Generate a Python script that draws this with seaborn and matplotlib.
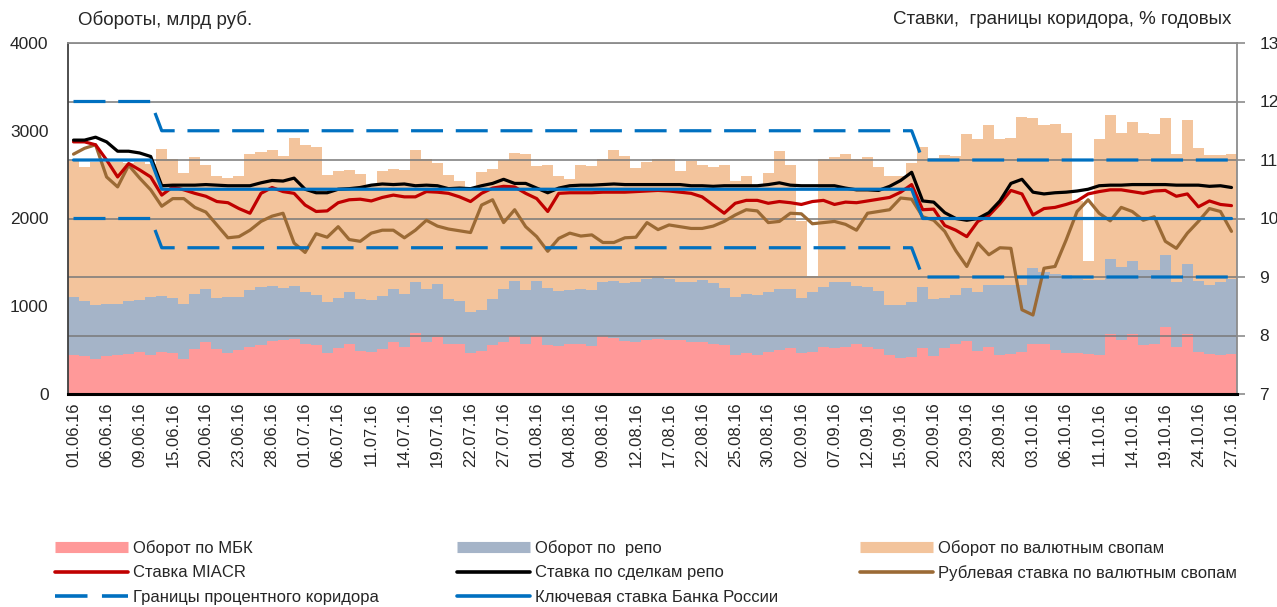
import numpy as np
import pandas as pd
import matplotlib
matplotlib.use('Agg')
import matplotlib.pyplot as plt
import seaborn as sns
from matplotlib.lines import Line2D

# Turnover, bn rub (daily, business days 01.06.16 - 27.10.16)
mbk = [443, 435, 401, 435, 440, 451, 477, 443, 480, 466, 401, 511, 594, 511, 462, 496, 534, 564, 601, 613,
       625, 572, 557, 462, 523, 575, 492, 477, 511, 587, 538, 693, 594, 651, 575, 574, 462, 489, 564, 590,
       662, 575, 658, 564, 549, 568, 575, 549, 658, 643, 609, 598, 621, 625, 621, 613, 594, 587, 572, 557,
       443, 470, 443, 477, 504, 519, 462, 477, 530, 519, 538, 568, 530, 511, 443, 405, 424, 519, 432, 526,
       568, 602, 492, 538, 443, 458, 481, 568, 568, 500, 462, 470, 455, 440, 682, 613, 689, 553, 568, 765,
       534, 682, 481, 451, 447, 455]
repo = [659, 622, 610, 591, 582, 606, 595, 659, 633, 629, 621, 625, 599, 579, 648, 614, 648, 652, 634, 595,
        602, 587, 576, 583, 575, 588, 591, 595, 610, 606, 602, 580, 599, 599, 504, 490, 473, 465, 515, 610,
        622, 606, 626, 640, 621, 613, 618, 640, 622, 641, 660, 675, 689, 697, 686, 663, 682, 708, 693, 655,
        659, 674, 682, 686, 693, 681, 629, 686, 686, 757, 738, 667, 686, 663, 572, 610, 625, 701, 655, 564,
        564, 610, 667, 708, 803, 781, 758, 871, 822, 863, 890, 844, 840, 855, 852, 834, 822, 856, 848, 814,
        742, 795, 807, 788, 829, 852]
swaps = [1556, 1525, 1632, 1614, 1618, 1573, 1568, 1523, 1682, 1586, 1500, 1560, 1412, 1390, 1351, 1370,
         1552, 1541, 1548, 1507, 1689, 1673, 1684, 1455, 1447, 1393, 1424, 1302, 1424, 1367, 1416, 1510,
         1488, 1382, 1421, 1359, 1428, 1571, 1481, 1466, 1465, 1553, 1317, 1409, 1310, 1269, 1420, 1409,
         1401, 1495, 1446, 1298, 1329, 1355, 1374, 1269, 1374, 1310, 1321, 1393, 1329, 1336, 1241, 1351,
         1575, 1405, 886, 177, 1461, 1428, 1458, 1446, 1480, 1408, 1465, 1465, 1579, 1590, 1601, 1637,
         1583, 1749, 1745, 1821, 1658, 1684, 1919, 1704, 1677, 1716, 1620, 886, 216, 1609, 1643, 1526,
         1590, 1563, 1549, 1564, 1458, 1643, 1510, 1484, 1447, 1427]

# Rates, % p.a.
miacr = [11.31, 11.31, 11.26, 11.00, 10.71, 10.94, 10.83, 10.71, 10.40, 10.54, 10.49, 10.43, 10.38, 10.29,
         10.27, 10.17, 10.09, 10.43, 10.53, 10.46, 10.43, 10.23, 10.12, 10.13, 10.27, 10.32, 10.33, 10.30,
         10.36, 10.40, 10.37, 10.37, 10.46, 10.45, 10.43, 10.37, 10.29, 10.43, 10.52, 10.55, 10.54, 10.43,
         10.34, 10.12, 10.43, 10.44, 10.44, 10.44, 10.45, 10.45, 10.45, 10.46, 10.47, 10.48, 10.47, 10.45,
         10.43, 10.37, 10.23, 10.09, 10.26, 10.31, 10.31, 10.26, 10.29, 10.27, 10.24, 10.29, 10.31, 10.24,
         10.28, 10.27, 10.30, 10.33, 10.36, 10.45, 10.58, 10.15, 10.16, 9.88, 9.80, 9.69, 9.95, 10.05,
         10.25, 10.48, 10.42, 10.06, 10.17, 10.19, 10.24, 10.30, 10.42, 10.46, 10.49, 10.49, 10.46, 10.43,
         10.47, 10.48, 10.38, 10.42, 10.20, 10.30, 10.24, 10.22]
repo_rate = [11.34, 11.34, 11.39, 11.31, 11.15, 11.15, 11.12, 11.06, 10.56, 10.57, 10.57, 10.57, 10.58,
             10.57, 10.56, 10.56, 10.56, 10.61, 10.65, 10.64, 10.69, 10.50, 10.44, 10.44, 10.50, 10.51,
             10.53, 10.57, 10.59, 10.58, 10.59, 10.56, 10.57, 10.56, 10.51, 10.52, 10.51, 10.56, 10.60,
             10.67, 10.60, 10.60, 10.52, 10.44, 10.52, 10.56, 10.57, 10.57, 10.58, 10.59, 10.58, 10.58,
             10.58, 10.58, 10.58, 10.58, 10.56, 10.56, 10.55, 10.56, 10.56, 10.56, 10.56, 10.58, 10.61,
             10.57, 10.56, 10.56, 10.56, 10.56, 10.52, 10.49, 10.49, 10.48, 10.55, 10.65, 10.79, 10.30,
             10.28, 10.10, 10.00, 9.97, 10.00, 10.10, 10.30, 10.60, 10.67, 10.45, 10.42, 10.44, 10.45,
             10.47, 10.50, 10.56, 10.57, 10.57, 10.58, 10.58, 10.58, 10.58, 10.57, 10.57, 10.57, 10.55,
             10.56, 10.53]
swap_rate = [11.10, 11.20, 11.26, 10.71, 10.54, 10.91, 10.69, 10.49, 10.21, 10.34, 10.34, 10.19, 10.11,
             9.89, 9.67, 9.69, 9.80, 9.95, 10.04, 10.09, 9.58, 9.42, 9.74, 9.68, 9.86, 9.64, 9.61, 9.75,
             9.80, 9.80, 9.67, 9.80, 9.97, 9.87, 9.82, 9.79, 9.76, 10.23, 10.32, 9.93, 10.15, 9.86, 9.69,
             9.44, 9.66, 9.75, 9.70, 9.72, 9.59, 9.59, 9.67, 9.68, 9.93, 9.81, 9.89, 9.86, 9.83, 9.83,
             9.87, 9.95, 10.06, 10.15, 10.13, 9.93, 9.95, 10.09, 10.08, 9.91, 9.93, 9.95, 9.90, 9.80,
             10.09, 10.12, 10.15, 10.35, 10.33, 10.03, 9.97, 9.78, 9.45, 9.18, 9.58, 9.38, 9.50, 9.49,
             8.44, 8.35, 9.15, 9.18, 9.63, 10.12, 10.32, 10.09, 9.96, 10.19, 10.12, 9.97, 10.03, 9.61,
             9.49, 9.75, 9.95, 10.17, 10.12, 9.78]
key_rate = [11.0] * 8 + [10.5] * 69 + [10.0] * 29
corridor_up = [12.0] * 8 + [11.5] * 69 + [11.0] * 29
corridor_low = [10.0] * 8 + [9.5] * 69 + [9.0] * 29

tick_labels = ['01.06.16', '06.06.16', '09.06.16', '15.06.16', '20.06.16', '23.06.16', '28.06.16',
               '01.07.16', '06.07.16', '11.07.16', '14.07.16', '19.07.16', '22.07.16', '27.07.16',
               '01.08.16', '04.08.16', '09.08.16', '12.08.16', '17.08.16', '22.08.16', '25.08.16',
               '30.08.16', '02.09.16', '07.09.16', '12.09.16', '15.09.16', '20.09.16', '23.09.16',
               '28.09.16', '03.10.16', '06.10.16', '11.10.16', '14.10.16', '19.10.16', '24.10.16',
               '27.10.16']

c_mbk = '#FF9999'
c_repo = '#A5B4C8'
c_swap = '#F3C49C'
c_red = '#C00000'
c_brown = '#9B6A35'
c_blue = '#0070C0'

sns.set_theme(style='white')
plt.rcParams['font.family'] = ['Liberation Sans', 'DejaVu Sans']

n = len(mbk)
df = pd.DataFrame({'day': np.arange(n), 'mbk': mbk, 'repo': repo, 'swaps': swaps,
                   'miacr': miacr, 'repo_rate': repo_rate, 'swap_rate': swap_rate,
                   'key': key_rate, 'up': corridor_up, 'low': corridor_low})
df['mbk_repo'] = df['mbk'] + df['repo']
df['total'] = df['mbk_repo'] + df['swaps']

W, H = 1277, 607
fig = plt.figure(figsize=(W / 100, H / 100), dpi=100)
ax = fig.add_axes([68 / W, 1 - 394 / H, (1237 - 68) / W, (394 - 43) / H])

# stacked bars drawn as overlapping cumulative totals
for col, c in [('total', c_swap), ('mbk_repo', c_repo), ('mbk', c_mbk)]:
    sns.barplot(data=df, x='day', y=col, color=c, saturation=1, width=1.0,
                linewidth=0, errorbar=None, ax=ax)

ax.set_ylim(0, 4000)
ax.set_yticks([0, 1000, 2000, 3000, 4000])
ax.set_xlim(-0.5, n - 0.5)
ax.set_xticks(range(0, n, 3))
ax.set_xticklabels(tick_labels, rotation=90, fontsize=12)
ax.tick_params(axis='y', labelsize=12.5, length=0, pad=14)
ax.tick_params(axis='x', length=0, pad=6)
ax.set_xlabel('')
ax.set_ylabel('')
ax.grid(False)

ax2 = ax.twinx()
lw = 2.3
sns.lineplot(x=df['day'], y=df['swap_rate'], color=c_brown, lw=lw, ax=ax2)
sns.lineplot(x=df['day'], y=df['miacr'], color=c_red, lw=lw, ax=ax2)
sns.lineplot(x=df['day'], y=df['repo_rate'], color='black', lw=lw, ax=ax2)
sns.lineplot(x=df['day'], y=df['key'], color=c_blue, lw=lw, ax=ax2)
for col in ['up', 'low']:
    sns.lineplot(x=df['day'], y=df[col], color=c_blue, lw=lw,
                 linestyle=(0, (10, 4)), dash_capstyle='butt', ax=ax2)

ax2.set_ylim(7, 13)
ax2.set_yticks(range(7, 14))
ax2.set_xlim(-0.5, n - 0.5)
ax2.set_xlabel('')
ax2.set_ylabel('')
ax2.tick_params(axis='y', labelsize=12.5, length=6, width=1.2, color='#8c8c8c', pad=10, direction='out')
ax2.set_axisbelow(True)
ax2.yaxis.grid(True, color='#7a7a7a', lw=1.4, alpha=0.8)
ax2.xaxis.grid(False)

for a in (ax, ax2):
    for s in a.spines.values():
        s.set_visible(True)
ax2.spines['bottom'].set_color('black')
ax2.spines['bottom'].set_linewidth(2.2)
ax2.spines['left'].set_color('#404040')
ax2.spines['left'].set_linewidth(1.3)
ax2.spines['right'].set_color('#8c8c8c')
ax2.spines['right'].set_linewidth(1.3)
ax2.spines['top'].set_color('#8c8c8c')
ax2.spines['top'].set_linewidth(1.3)
for s in ax.spines.values():
    s.set_visible(False)

fig.text(78 / W, 1 - 20 / H, 'Обороты, млрд руб.', ha='left', va='center', fontsize=13.5)
fig.text(1231 / W, 1 - 20 / H, 'Ставки,  границы коридора, % годовых', ha='right', va='center', fontsize=13.5)

# legend, three columns placed separately
def bar_handle(c):
    return Line2D([], [], color=c, lw=8, solid_capstyle='butt')

def line_handle(c, ls='-'):
    return Line2D([], [], color=c, lw=2.6, linestyle=ls, solid_capstyle='round', dash_capstyle='butt')

columns = [
    (55, [(bar_handle(c_mbk), 'Оборот по МБК'),
          (line_handle(c_red), 'Ставка MIACR'),
          (line_handle(c_blue, (0, (9, 4))), 'Границы процентного коридора')]),
    (457, [(bar_handle(c_repo), 'Оборот по  репо'),
           (line_handle('black'), 'Ставка по сделкам репо'),
           (line_handle(c_blue), 'Ключевая ставка Банка России')]),
    (860, [(bar_handle(c_swap), 'Оборот по валютным свопам'),
           (line_handle(c_brown), 'Рублевая ставка по валютным свопам')]),
]
for x0, items in columns:
    leg = fig.legend([h for h, _ in items], [t for _, t in items], loc='upper left',
                     bbox_to_anchor=(x0 / W, 1 - 540 / H), frameon=False, fontsize=12,
                     handlelength=4.4, handletextpad=0.3, labelspacing=0.57,
                     borderpad=0, borderaxespad=0)

fig.savefig('out.png', dpi=100)
